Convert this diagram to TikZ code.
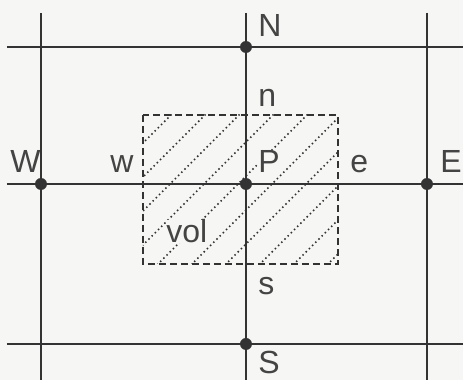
\documentclass[tikz,border=0pt]{standalone}
\usepackage{fontspec}
\setmainfont{Liberation Sans}
\definecolor{bg}{HTML}{F6F6F4}
\definecolor{ink}{HTML}{333333}
\definecolor{txt}{HTML}{444444}
\begin{document}
\begin{tikzpicture}[x=0.5pt,y=-0.5pt,
  gridline/.style={draw=ink,line width=1pt},
  pointdot/.style={circle,fill=ink,inner sep=0pt,minimum size=6pt},
  lbl/.style={font=\fontsize{16}{18}\selectfont,text=txt,inner sep=0pt,anchor=base west},
  cvbox/.style={draw=ink,line width=0.8pt,dash pattern=on 3.5pt off 2pt},
  hatch/.style={draw=ink,line width=0.75pt,dash pattern=on 0.75pt off 1.5pt}]
\fill[bg] (0,0) rectangle (463,380);
\useasboundingbox (0,0) rectangle (463,380);
% grid end points
\coordinate (tl) at (7,47);   \coordinate (tr) at (463,47);
\coordinate (ml) at (7,184);  \coordinate (mr) at (463,184);
\coordinate (bl) at (7,344);  \coordinate (br) at (463,344);
\coordinate (lt) at (41,13);  \coordinate (lb) at (41,380);
\coordinate (ct) at (246,13); \coordinate (cb) at (246,380);
\coordinate (rt) at (427,13); \coordinate (rb) at (427,380);
% control volume corners
\coordinate (v1) at (143,115); \coordinate (v2) at (338,264);
% hatching
\begin{scope}
\clip (v1) rectangle (v2);
\foreach \c in {286,320,...,600}{
  \draw[hatch] (\c-300,300) -- (\c-100,100);
}
\end{scope}
\draw[cvbox] (v1) rectangle (v2);
% grid lines
\draw[gridline] (tl) -- (tr);
\draw[gridline] (ml) -- (mr);
\draw[gridline] (bl) -- (br);
\draw[gridline] (lt) -- (lb);
\draw[gridline] (ct) -- (cb);
\draw[gridline] (rt) -- (rb);
% nodes
\node[pointdot] (W) at (41,184) {};
\node[pointdot] (P) at (246,184) {};
\node[pointdot] (E) at (427,184) {};
\node[pointdot] (N) at (246,47) {};
\node[pointdot] (S) at (246,344) {};
% labels
\node[lbl] (lN) at (258,37) {N};
\node[lbl] (ln) at (258,107) {n};
\node[lbl,fill=bg] (lP) at (258,173) {P};
\node[lbl] (ls) at (258,295) {s};
\node[lbl] (lS) at (258,374) {S};
\node[lbl] (lW) at (10,173) {W};
\node[lbl] (lw) at (110,173) {w};
\node[lbl] (le) at (350,173) {e};
\node[lbl] (lE) at (440,173) {E};
\node[lbl,fill=bg] (lvol) at (166,243) {vol};
\end{tikzpicture}
\end{document}
